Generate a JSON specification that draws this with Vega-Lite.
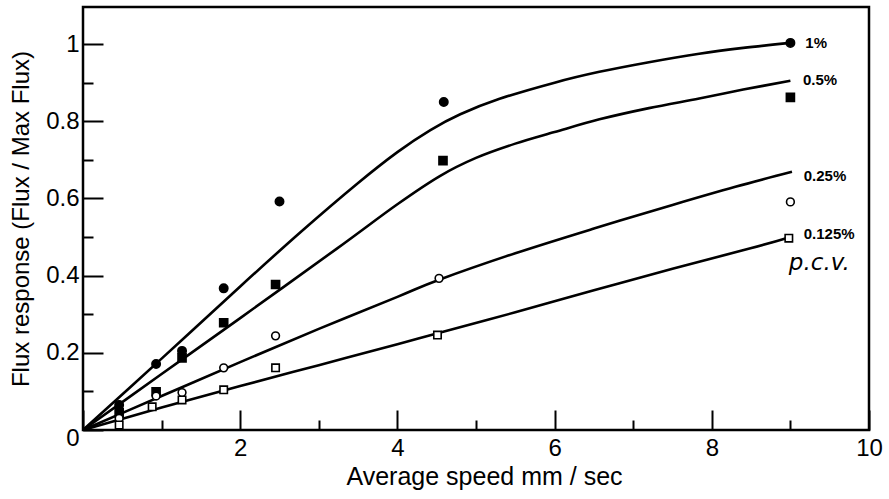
{
  "$schema": "https://vega.github.io/schema/vega-lite/v6.json",
  "width": 786,
  "height": 423,
  "autosize": {"type": "none"},
  "padding": {"left": 83, "top": 7, "right": 20, "bottom": 69},
  "background": "white",
  "config": {
    "view": {"stroke": "black", "strokeWidth": 2.5},
    "font": "Liberation Sans",
    "axis": {"domain": false, "grid": false, "tickColor": "black", "tickWidth": 2, "labelColor": "black", "titleColor": "black", "labelFont": "Liberation Sans", "titleFont": "Liberation Sans", "labelFontSize": 24, "titleFontSize": 24, "titleFontWeight": "normal", "labelOverlap": false, "labelFlush": false}
  },
  "datasets": {
    "curves": [
      {"series": "1%", "x": 0, "y": 0}, {"series": "1%", "x": 1.0, "y": 0.185}, {"series": "1%", "x": 2.0, "y": 0.372}, {"series": "1%", "x": 2.77, "y": 0.513}, {"series": "1%", "x": 3.5, "y": 0.64}, {"series": "1%", "x": 4.0, "y": 0.72}, {"series": "1%", "x": 4.42, "y": 0.777}, {"series": "1%", "x": 4.8, "y": 0.818}, {"series": "1%", "x": 5.3, "y": 0.858}, {"series": "1%", "x": 6.0, "y": 0.9}, {"series": "1%", "x": 6.57, "y": 0.928}, {"series": "1%", "x": 7.2, "y": 0.953}, {"series": "1%", "x": 7.84, "y": 0.975}, {"series": "1%", "x": 8.4, "y": 0.99}, {"series": "1%", "x": 9.0, "y": 1.003},
      {"series": "0.5%", "x": 0, "y": 0}, {"series": "0.5%", "x": 1.0, "y": 0.145}, {"series": "0.5%", "x": 2.0, "y": 0.29}, {"series": "0.5%", "x": 3.23, "y": 0.47}, {"series": "0.5%", "x": 4.0, "y": 0.585}, {"series": "0.5%", "x": 4.54, "y": 0.658}, {"series": "0.5%", "x": 5.0, "y": 0.705}, {"series": "0.5%", "x": 5.5, "y": 0.742}, {"series": "0.5%", "x": 6.0, "y": 0.772}, {"series": "0.5%", "x": 6.57, "y": 0.805}, {"series": "0.5%", "x": 7.2, "y": 0.834}, {"series": "0.5%", "x": 7.84, "y": 0.859}, {"series": "0.5%", "x": 8.4, "y": 0.882}, {"series": "0.5%", "x": 9.0, "y": 0.905},
      {"series": "0.25%", "x": 0, "y": 0}, {"series": "0.25%", "x": 1.0, "y": 0.088}, {"series": "0.25%", "x": 2.0, "y": 0.176}, {"series": "0.25%", "x": 3.0, "y": 0.262}, {"series": "0.25%", "x": 4.0, "y": 0.345}, {"series": "0.25%", "x": 4.54, "y": 0.39}, {"series": "0.25%", "x": 5.5, "y": 0.458}, {"series": "0.25%", "x": 6.5, "y": 0.522}, {"series": "0.25%", "x": 7.5, "y": 0.583}, {"series": "0.25%", "x": 8.3, "y": 0.63}, {"series": "0.25%", "x": 9.02, "y": 0.669},
      {"series": "0.125%", "x": 0, "y": 0}, {"series": "0.125%", "x": 1.0, "y": 0.058}, {"series": "0.125%", "x": 2.0, "y": 0.114}, {"series": "0.125%", "x": 3.0, "y": 0.168}, {"series": "0.125%", "x": 4.0, "y": 0.222}, {"series": "0.125%", "x": 4.5, "y": 0.25}, {"series": "0.125%", "x": 5.5, "y": 0.305}, {"series": "0.125%", "x": 6.5, "y": 0.362}, {"series": "0.125%", "x": 7.5, "y": 0.418}, {"series": "0.125%", "x": 8.48, "y": 0.47}, {"series": "0.125%", "x": 8.98, "y": 0.499}
    ],
    "points": [
      {"series": "1%", "x": 0.46, "y": 0.065}, {"series": "1%", "x": 0.93, "y": 0.171}, {"series": "1%", "x": 1.26, "y": 0.205}, {"series": "1%", "x": 1.79, "y": 0.367}, {"series": "1%", "x": 2.5, "y": 0.592}, {"series": "1%", "x": 4.59, "y": 0.85}, {"series": "1%", "x": 9.0, "y": 1.003},
      {"series": "0.5%", "x": 0.46, "y": 0.045}, {"series": "0.5%", "x": 0.93, "y": 0.099}, {"series": "0.5%", "x": 1.26, "y": 0.187}, {"series": "0.5%", "x": 1.79, "y": 0.278}, {"series": "0.5%", "x": 2.45, "y": 0.377}, {"series": "0.5%", "x": 4.58, "y": 0.698}, {"series": "0.5%", "x": 9.0, "y": 0.862},
      {"series": "0.25%", "x": 0.46, "y": 0.03}, {"series": "0.25%", "x": 0.93, "y": 0.088}, {"series": "0.25%", "x": 1.26, "y": 0.097}, {"series": "0.25%", "x": 1.79, "y": 0.161}, {"series": "0.25%", "x": 2.45, "y": 0.244}, {"series": "0.25%", "x": 4.53, "y": 0.393}, {"series": "0.25%", "x": 9.0, "y": 0.591},
      {"series": "0.125%", "x": 0.46, "y": 0.013}, {"series": "0.125%", "x": 0.88, "y": 0.06}, {"series": "0.125%", "x": 1.26, "y": 0.078}, {"series": "0.125%", "x": 1.79, "y": 0.104}, {"series": "0.125%", "x": 2.45, "y": 0.161}, {"series": "0.125%", "x": 4.51, "y": 0.246}, {"series": "0.125%", "x": 8.98, "y": 0.497}
    ],
    "labels": [
      {"text": "1%", "x": 9.19, "y": 1.003},
      {"text": "0.5%", "x": 9.16, "y": 0.907},
      {"text": "0.25%", "x": 9.17, "y": 0.658},
      {"text": "0.125%", "x": 9.17, "y": 0.508}
    ],
    "note": [
      {"text": "p.c.v.", "x": 8.98, "y": 0.433}
    ]
  },
  "layer": [
    {
      "data": {"name": "curves"},
      "mark": {"type": "line", "interpolate": "cardinal", "color": "black", "strokeWidth": 2.6},
      "encoding": {
        "x": {"field": "x", "type": "quantitative", "scale": {"domain": [0, 10], "nice": false, "zero": false},
          "axis": {"title": "Average speed mm / sec", "titlePadding": -6, "titleFontSize": 25, "titleX": 401, "values": [0, 0.5, 1, 1.5, 2, 2.5, 3, 3.5, 4, 4.5, 5, 5.5, 6, 6.5, 7, 7.5, 8, 8.5, 9, 9.5, 10],
            "format": "~g",
            "tickSize": {"condition": {"test": "datum.value % 2 === 0", "value": -20}, "value": -10},
            "labelExpr": "datum.value % 2 === 0 && datum.value > 0 ? datum.label : ''",
            "labelPadding": 26}},
        "y": {"field": "y", "type": "quantitative", "scale": {"domain": [0, 1.096], "nice": false, "zero": false},
          "axis": {"title": "Flux  response (Flux / Max Flux)", "titlePadding": 12, "values": [0, 0.05, 0.1, 0.15, 0.2, 0.25, 0.3, 0.35, 0.4, 0.45, 0.5, 0.55, 0.6, 0.65, 0.7, 0.75, 0.8, 0.85, 0.9, 0.95, 1, 1.05],
            "format": "~g",
            "tickSize": {"condition": {"test": "abs(datum.value * 5 - round(datum.value * 5)) < 0.001", "value": -20}, "value": -10},
            "labelExpr": "abs(datum.value * 5 - round(datum.value * 5)) < 0.001 ? datum.label : ''",
            "labelOffset": {"condition": {"test": "datum.value === 0", "value": 8}, "value": 0},
            "labelPadding": 24}},
        "detail": {"field": "series"}
      }
    },
    {
      "data": {"name": "points"},
      "mark": {"type": "point", "filled": true, "stroke": "black", "strokeWidth": 1.6, "opacity": 1},
      "encoding": {
        "x": {"field": "x", "type": "quantitative"},
        "y": {"field": "y", "type": "quantitative"},
        "shape": {"field": "series", "type": "nominal", "scale": {"domain": ["1%", "0.5%", "0.25%", "0.125%"], "range": ["circle", "square", "circle", "square"]}, "legend": null},
        "fill": {"field": "series", "type": "nominal", "scale": {"domain": ["1%", "0.5%", "0.25%", "0.125%"], "range": ["black", "black", "white", "white"]}, "legend": null},
        "size": {"field": "series", "type": "nominal", "scale": {"domain": ["1%", "0.5%", "0.25%", "0.125%"], "range": [70, 55, 40, 30]}, "legend": null}
      }
    },
    {
      "data": {"name": "labels"},
      "mark": {"type": "text", "align": "left", "baseline": "middle", "font": "Liberation Sans", "fontWeight": "bold", "fontSize": 15, "color": "black"},
      "encoding": {
        "x": {"field": "x", "type": "quantitative"},
        "y": {"field": "y", "type": "quantitative"},
        "text": {"field": "text"}
      }
    },
    {
      "data": {"name": "note"},
      "mark": {"type": "text", "align": "left", "baseline": "middle", "font": "DejaVu Sans", "fontStyle": "italic", "fontSize": 23, "color": "black"},
      "encoding": {
        "x": {"field": "x", "type": "quantitative"},
        "y": {"field": "y", "type": "quantitative"},
        "text": {"field": "text"}
      }
    }
  ]
}
